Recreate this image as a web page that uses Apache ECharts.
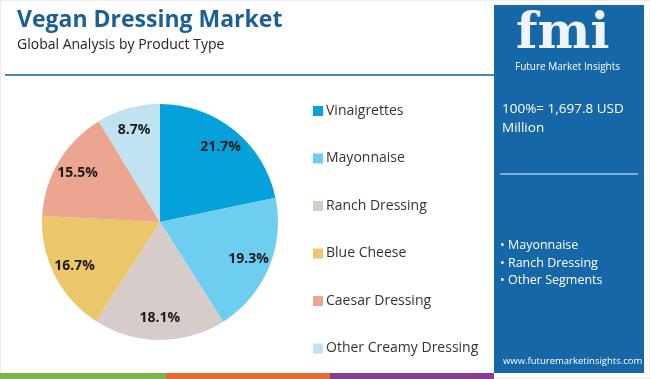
<!DOCTYPE html>
<html><head><meta charset="utf-8">
<script src="https://cdn.jsdelivr.net/npm/echarts@6/dist/echarts.min.js"></script>
<style>html,body{margin:0;padding:0;background:#fff}#c{width:650px;height:379px}</style>
</head><body><div id="c"></div>
<script>
var categories = ["Vinaigrettes","Mayonnaise","Ranch Dressing","Blue Cheese","Caesar Dressing","Other Creamy Dressing"];
var values = [21.7,19.3,18.1,16.7,15.5,8.7];
var colors = ["#04a1db","#6dcef1","#d6ccc9","#ecc66b","#eca58e","#c1e2f1"];
var bullets = ["• Mayonnaise","• Ranch Dressing","• Other Segments"];
var totalText = ["100%= 1,697.8 USD","Million"];

var font = "'Open Sans', 'Noto Sans', sans-serif";
var data = categories.map(function(n,i){return {name:n,value:values[i],itemStyle:{color:colors[i]}};});
var chart = echarts.init(document.getElementById('c'));
chart.setOption({
  animation:false,
  title:[
    {text:"Vegan Dressing Market",left:12,top:4,textStyle:{fontFamily:font,fontSize:23,fontWeight:'bold',color:'#1b5f97'}},
    {text:"Global Analysis by Product Type",left:12,top:33,textStyle:{fontFamily:font,fontSize:14,fontWeight:'normal',color:'#222'}}
  ],
  legend:{
    orient:'vertical',left:308,top:99,itemGap:33.5,itemWidth:10,itemHeight:10,icon:'rect',
    textStyle:{fontFamily:font,fontSize:14,color:'#333',padding:[0,0,0,-2]},
    data:categories
  },
  graphic:[
    {type:'rect',shape:{x:0,y:0,width:650,height:379},style:{fill:'none',stroke:'#ddd',lineWidth:1},z:-10},
    {type:'line',shape:{x1:5,y1:75,x2:494,y2:75},style:{stroke:'#4a86b4',lineWidth:2}},
    {type:'rect',shape:{x:0,y:373,width:166,height:6},style:{fill:'#7ab648'}},
    {type:'rect',shape:{x:166,y:373,width:164,height:6},style:{fill:'#ea6a2d'}},
    {type:'rect',shape:{x:330,y:373,width:164,height:6},style:{fill:'#8b3a96'}},
    {type:'rect',shape:{x:494,y:5,width:150,height:368},style:{fill:'#1667a8'}},
    {type:'text',left:516,top:10,style:{text:'fmi',font:"bold 50px 'DejaVu Serif', serif",fill:'#eef4fa'}},
    {type:'text',left:515,top:62,style:{text:'Future Market Insights',font:"10px "+font,fill:'#ffffff'}},
    {type:'text',left:502,top:102,style:{text:totalText[0],font:"13.5px "+font,fill:'#ffffff'}},
    {type:'text',left:502,top:121,style:{text:totalText[1],font:"13.5px "+font,fill:'#ffffff'}},
    {type:'line',shape:{x1:500,y1:174,x2:638,y2:174},style:{stroke:'#9fc3e0',lineWidth:1.5}},
    {type:'text',left:500,top:239,style:{text:bullets[0],font:"12.5px "+font,fill:'#ffffff'}},
    {type:'text',left:500,top:257,style:{text:bullets[1],font:"12.5px "+font,fill:'#ffffff'}},
    {type:'text',left:500,top:274,style:{text:bullets[2],font:"12.5px "+font,fill:'#ffffff'}},
    {type:'text',left:503,top:356,style:{text:'www.futuremarketinsights.com',font:"9.5px "+font,fill:'#ffffff'}}
  ],
  series:[
    {type:'pie',center:[160,222],radius:[0,118],startAngle:90,clockwise:true,
     label:{show:false},labelLine:{show:false},data:data,emphasis:{disabled:true}},
    {type:'pie',center:[160,222],radius:[68,118],startAngle:90,clockwise:true,silent:true,
     itemStyle:{color:'rgba(0,0,0,0)'},legendHoverLink:false,
     label:{show:true,position:'inside',formatter:'{c}%',fontFamily:font,fontSize:14,fontWeight:'bold',color:'#1a1a1a'},
     labelLine:{show:false},data:data.map(function(d){return {name:d.name+' ',value:d.value,itemStyle:{color:'rgba(0,0,0,0)'}};}),emphasis:{disabled:true}}
  ]
});
</script></body></html>
